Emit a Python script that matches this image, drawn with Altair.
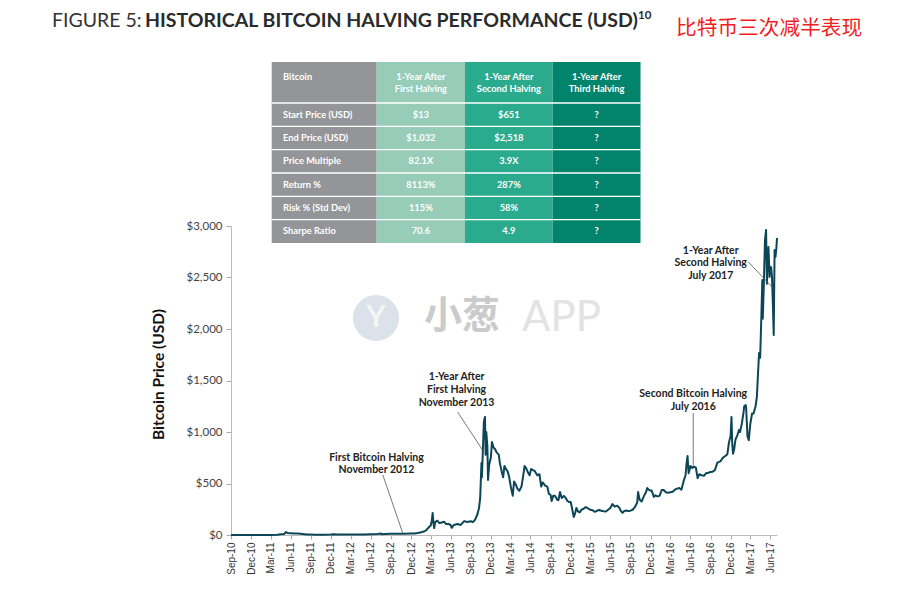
import altair as alt
import pandas as pd

# ---------------- data ----------------
dates = [
    "2010-09-30", "2010-10-31", "2010-11-30", "2010-12-31",
    "2011-01-31", "2011-02-28", "2011-03-31", "2011-04-30", "2011-05-15", "2011-05-31", "2011-06-08", "2011-06-15",
    "2011-06-30", "2011-07-15", "2011-07-31", "2011-08-15", "2011-08-31", "2011-09-15", "2011-09-30", "2011-10-20",
    "2011-10-31", "2011-11-18", "2011-11-30", "2011-12-31",
    "2012-01-10", "2012-01-31", "2012-02-29", "2012-03-31", "2012-04-30", "2012-05-31", "2012-06-30", "2012-07-31",
    "2012-08-16", "2012-08-19", "2012-08-31", "2012-09-30", "2012-10-31", "2012-11-28", "2012-12-31",
    "2013-01-15", "2013-01-31", "2013-02-15", "2013-02-28", "2013-03-10", "2013-03-20", "2013-03-31", "2013-04-05",
    "2013-04-09", "2013-04-12", "2013-04-16", "2013-04-20", "2013-04-30", "2013-05-10", "2013-05-20", "2013-05-31",
    "2013-06-10", "2013-06-20", "2013-06-30", "2013-07-05", "2013-07-15", "2013-07-31", "2013-08-15", "2013-08-31",
    "2013-09-15", "2013-09-30", "2013-10-10", "2013-10-20", "2013-10-31", "2013-11-07", "2013-11-12", "2013-11-18",
    "2013-11-20", "2013-11-24", "2013-11-29", "2013-12-04", "2013-12-07", "2013-12-10", "2013-12-15", "2013-12-18",
    "2013-12-23", "2013-12-31",
    "2014-01-05", "2014-01-12", "2014-01-20", "2014-01-27", "2014-02-05", "2014-02-10", "2014-02-18", "2014-02-25",
    "2014-03-03", "2014-03-10", "2014-03-17", "2014-03-24", "2014-04-01", "2014-04-10", "2014-04-16", "2014-04-24",
    "2014-05-01", "2014-05-10", "2014-05-20", "2014-05-31", "2014-06-03", "2014-06-10", "2014-06-18", "2014-06-26",
    "2014-07-03", "2014-07-12", "2014-07-20", "2014-07-31", "2014-08-10", "2014-08-18", "2014-08-25", "2014-09-05",
    "2014-09-15", "2014-09-22", "2014-09-30", "2014-10-05", "2014-10-12", "2014-10-20", "2014-10-31", "2014-11-05",
    "2014-11-12", "2014-11-20", "2014-11-30", "2014-12-08", "2014-12-16", "2014-12-24", "2014-12-31",
    "2015-01-05", "2015-01-14", "2015-01-20", "2015-01-26", "2015-02-02", "2015-02-10", "2015-02-18", "2015-02-28",
    "2015-03-10", "2015-03-18", "2015-03-31", "2015-04-10", "2015-04-20", "2015-04-30", "2015-05-10", "2015-05-20",
    "2015-05-31", "2015-06-10", "2015-06-20", "2015-06-30", "2015-07-10", "2015-07-20", "2015-07-31", "2015-08-10",
    "2015-08-18", "2015-08-25", "2015-08-31", "2015-09-10", "2015-09-20", "2015-09-30", "2015-10-10", "2015-10-20",
    "2015-10-31", "2015-11-04", "2015-11-07", "2015-11-12", "2015-11-20", "2015-11-30", "2015-12-10", "2015-12-16",
    "2015-12-22", "2015-12-31",
    "2016-01-05", "2016-01-15", "2016-01-22", "2016-01-31", "2016-02-10", "2016-02-20", "2016-02-29", "2016-03-10",
    "2016-03-20", "2016-03-31", "2016-04-10", "2016-04-20", "2016-04-30", "2016-05-10", "2016-05-20", "2016-05-31",
    "2016-06-08", "2016-06-12", "2016-06-17", "2016-06-22", "2016-06-26", "2016-06-30", "2016-07-09", "2016-07-15",
    "2016-07-25", "2016-08-02", "2016-08-10", "2016-08-20", "2016-08-31", "2016-09-10", "2016-09-20", "2016-09-30",
    "2016-10-10", "2016-10-20", "2016-10-31", "2016-11-07", "2016-11-15", "2016-11-22", "2016-11-30", "2016-12-08",
    "2016-12-16", "2016-12-23", "2016-12-31",
    "2017-01-04", "2017-01-07", "2017-01-11", "2017-01-16", "2017-01-22", "2017-01-31", "2017-02-07", "2017-02-12",
    "2017-02-20", "2017-02-28", "2017-03-03", "2017-03-10", "2017-03-12", "2017-03-18", "2017-03-24", "2017-03-31",
    "2017-04-08", "2017-04-15", "2017-04-24", "2017-04-30", "2017-05-05", "2017-05-10", "2017-05-15", "2017-05-20",
    "2017-05-25", "2017-05-27", "2017-06-01", "2017-06-06", "2017-06-11", "2017-06-15", "2017-06-18", "2017-06-22",
    "2017-06-27", "2017-06-30", "2017-07-04", "2017-07-08", "2017-07-12", "2017-07-16", "2017-07-20", "2017-07-24",
    "2017-07-28", "2017-07-31",
]
prices = [
    0.06, 0.19, 0.21, 0.30,
    0.52, 0.86, 0.78, 3.5, 7.9, 8.7, 29.6, 19,
    16.1, 13.8, 13.4, 11, 8.2, 4.8, 5.1, 2.3,
    3.2, 2.1, 3.0, 4.7,
    7.1, 5.5, 4.9, 4.9, 4.95, 5.2, 6.7, 9.4,
    13.5, 8, 10.1, 12.4, 11.2, 12.3, 13.5,
    14.2, 20.4, 27, 33.4, 46, 70, 93, 142,
    214, 120, 68, 125, 139, 115, 122, 128,
    106, 108, 97, 70, 98, 106, 98, 135,
    126, 133, 125, 150, 204, 265, 355, 700,
    560, 800, 1100, 1146, 780, 1000, 860, 534,
    680, 754,
    903, 850, 830, 800, 780, 700, 620, 560,
    670, 640, 620, 570, 470, 380, 520, 490,
    450, 430, 470, 620, 670, 650, 610, 580,
    640, 630, 620, 580, 590, 470, 510, 480,
    470, 400, 390, 330, 380, 380, 340, 340,
    418, 360, 380, 360, 330, 320, 320,
    270, 175, 210, 262, 230, 220, 245, 255,
    272, 260, 245, 240, 225, 235, 243, 235,
    230, 228, 245, 262, 300, 275, 285, 265,
    230, 215, 230, 238, 232, 236, 245, 270,
    315, 418, 380, 340, 325, 375, 415, 456,
    440, 430,
    432, 370, 385, 375, 380, 437, 437, 415,
    410, 415, 420, 440, 450, 456, 440, 530,
    580, 680, 767, 600, 630, 670, 650, 665,
    655, 553, 590, 580, 575, 600, 605, 612,
    615, 630, 700, 710, 715, 740, 757, 770,
    785, 893, 965,
    1146, 900, 790, 830, 925, 970, 1020, 1000,
    1080, 1190, 1250, 1262, 1230, 960, 920, 1080,
    1180, 1180, 1250, 1340, 1560, 1767, 1720, 2087,
    2476, 2100, 2450, 2860, 2961, 2440, 2640, 2796,
    2505, 2602, 2600, 2510, 2252, 1942, 2767, 2700,
    2780, 2883,
]

tick_labels = ["Sep-10", "Dec-10", "Mar-11", "Jun-11", "Sep-11", "Dec-11", "Mar-12", "Jun-12", "Sep-12",
               "Dec-12", "Mar-13", "Jun-13", "Sep-13", "Dec-13", "Mar-14", "Jun-14", "Sep-14", "Dec-14",
               "Mar-15", "Jun-15", "Sep-15", "Dec-15", "Mar-16", "Jun-16", "Sep-16", "Dec-16", "Mar-17",
               "Jun-17"]
y_ticks = [0, 500, 1000, 1500, 2000, 2500, 3000]

# table content
table_headers = ["Bitcoin", "1-Year After\nFirst Halving", "1-Year After\nSecond Halving",
                 "1-Year After\nThird Halving"]
row_labels = ["Start Price (USD)", "End Price (USD)", "Price Multiple", "Return %", "Risk % (Std Dev)",
              "Sharpe Ratio"]
first_halving = ["$13", "$1,032", "82.1X", "8113%", "115%", "70.6"]
second_halving = ["$651", "$2,518", "3.9X", "287%", "58%", "4.9"]
third_halving = ["?", "?", "?", "?", "?", "?"]

# annotations (anchored in data units)
ann_text = ["First Bitcoin Halving", "November 2012",
            "1-Year After", "First Halving", "November 2013",
            "Second Bitcoin Halving", "July 2016",
            "1-Year After", "Second Halving", "July 2017"]
ann_date = ["2012-07-26", "2012-07-26",
            "2013-07-27", "2013-07-27", "2013-07-27",
            "2016-07-13", "2016-07-13",
            "2016-10-01", "2016-10-01", "2016-10-01"]
ann_price = [748, 631, 1534, 1403, 1277, 1369, 1238, 2757, 2641, 2515]

lead_date = ["2012-08-24", "2013-08-01", "2016-07-13", "2017-03-22"]
lead_price = [583, 1194, 1184, 2650]
lead_date2 = ["2012-11-23", "2013-11-23", "2016-07-13", "2017-07-18"]
lead_price2 = [19, 825, 680, 2388]

# ---------------- layout / style ----------------
W, H = 546, 309
PAD_L, PAD_T = 223, 218          # plot origin at page (231, 226)
OX, OY = 231, 226                # page origin of the plot
LINE_COLOR = "#0c4656"
TXT = "#222222"

df = pd.DataFrame({"date": pd.to_datetime(dates), "price": prices})

tick_dates = [pd.to_datetime(t, format="%b-%y") + pd.offsets.MonthEnd(0) for t in tick_labels]
tick_values = [alt.DateTime(year=d.year, month=d.month, date=d.day) for d in tick_dates]

xscale = alt.Scale(domain=[alt.DateTime(year=2010, month=9, date=30),
                           alt.DateTime(year=2017, month=7, date=31)])
yscale = alt.Scale(domain=[0, 3000], nice=False)

x_axis = alt.Axis(values=tick_values, format="%b-%y", labelAngle=270, labelFont="Liberation Sans",
                  labelFontSize=10, labelColor="#333", tickColor="#aaa", tickSize=4,
                  domainColor="#bbb", grid=False, title=None, labelPadding=3,
                  labelOverlap=False, labelBound=False, labelFlush=False)
y_axis = alt.Axis(values=y_ticks, format="$,.0f", labelFont="Lato", labelFontSize=11.5,
                  labelColor="#444", tickColor="#aaa", tickSize=5, domainColor="#bbb",
                  labelPadding=4, grid=False, title="Bitcoin Price (USD)", titleFont="Lato",
                  titleFontSize=15.5, titleFontWeight="bold", titleColor="#111",
                  titlePadding=20, titleY=148)

line = alt.Chart(df).mark_line(color=LINE_COLOR, strokeWidth=2, strokeJoin="round").encode(
    x=alt.X("date:T", scale=xscale, axis=x_axis),
    y=alt.Y("price:Q", scale=yscale, axis=y_axis),
)

# leader lines
lead_df = pd.DataFrame({"d1": pd.to_datetime(lead_date), "p1": lead_price,
                        "d2": pd.to_datetime(lead_date2), "p2": lead_price2})
leaders = alt.Chart(lead_df).mark_rule(color="#555", strokeWidth=0.8).encode(
    x=alt.X("d1:T", scale=xscale, axis=x_axis), x2="d2:T",
    y=alt.Y("p1:Q", scale=yscale, axis=y_axis), y2="p2:Q")

ann_df = pd.DataFrame({"date": pd.to_datetime(ann_date), "price": ann_price, "t": ann_text})
ann = alt.Chart(ann_df).mark_text(font="Lato", fontWeight="bold", fontSize=10.5, color=TXT,
                                  align="center", baseline="middle").encode(
    x=alt.X("date:T", scale=xscale, axis=x_axis), y=alt.Y("price:Q", scale=yscale, axis=y_axis),
    text="t:N")

# ---------------- table ----------------
col_edges = [271.7, 376.7, 465.0, 552.7, 640.5]
row_edges = [62.0, 103.0, 126.3, 149.7, 173.0, 196.3, 219.7, 243.0]
col_colors = ["#949598", "#96ccb8", "#2bab8e", "#02846c"]

cells = []
for c in range(4):
    cells.append({"x": col_edges[c] - OX, "x2": col_edges[c + 1] - OX,
                  "y": row_edges[0] - OY, "y2": row_edges[-1] - OY, "fill": col_colors[c]})
rect_df = pd.DataFrame(cells)
rects = alt.Chart(rect_df).mark_rect().encode(
    x=alt.X("x:Q", scale=None), x2="x2:Q",
    y=alt.Y("y:Q", scale=None), y2="y2:Q",
    fill=alt.Fill("fill:N", scale=None))

sep_df = pd.DataFrame({"y": [r - OY for r in row_edges[1:-1]],
                       "x": [col_edges[0] - OX] * 6, "x2": [col_edges[-1] - OX] * 6})
seps = alt.Chart(sep_df).mark_rule(color="white", strokeWidth=1.3).encode(
    x=alt.X("x:Q", scale=None), x2="x2:Q", y=alt.Y("y:Q", scale=None))

txt_rows = []
cols_vals = [row_labels, first_halving, second_halving, third_halving]
for c in range(4):
    cx = (col_edges[c] + col_edges[c + 1]) / 2 - OX if c > 0 else 283 - OX
    al = "center" if c > 0 else "left"
    txt_rows.append({"x": cx, "y": (row_edges[0] + row_edges[1]) / 2 - OY - 6,
                     "t": table_headers[c], "al": al})
    for r in range(6):
        txt_rows.append({"x": cx, "y": (row_edges[r + 1] + row_edges[r + 2]) / 2 - OY,
                         "t": cols_vals[c][r], "al": al})
tdf = pd.DataFrame(txt_rows)
tleft = alt.Chart(tdf).transform_filter(alt.datum.al == "left").mark_text(
    font="Lato", fontWeight="bold", fontSize=9.3, color="white", align="left", baseline="middle",
    lineBreak="\n", lineHeight=12).encode(
    x=alt.X("x:Q", scale=None), y=alt.Y("y:Q", scale=None), text="t:N")
tcenter = alt.Chart(tdf).transform_filter(alt.datum.al == "center").mark_text(
    font="Lato", fontWeight="bold", fontSize=9.3, color="white", align="center", baseline="middle",
    lineBreak="\n", lineHeight=12).encode(
    x=alt.X("x:Q", scale=None), y=alt.Y("y:Q", scale=None), text="t:N")

# ---------------- titles ----------------
one = pd.DataFrame({"a": [0]})
t_fig = alt.Chart(one).mark_text(text="FIGURE 5:", font="Lato", fontSize=19.5, color="#333",
                                 align="left", baseline="alphabetic").encode(
    x=alt.value(52 - OX), y=alt.value(27 - OY))
t_main = alt.Chart(one).mark_text(text="HISTORICAL BITCOIN HALVING PERFORMANCE (USD)", font="Lato",
                                  fontWeight="bold", fontSize=19.5, color="#2b2b2b",
                                  align="left", baseline="alphabetic").encode(
    x=alt.value(145 - OX), y=alt.value(27 - OY))
t_sup = alt.Chart(one).mark_text(text="10", font="Lato", fontWeight="bold", fontSize=11.5, color="#2b2b2b",
                                 align="left", baseline="alphabetic").encode(
    x=alt.value(638 - OX), y=alt.value(19 - OY))
t_cn = alt.Chart(one).mark_text(text="比特币三次减半表现", font="Noto Sans CJK SC", fontSize=20.7,
                                color="#f01e1e", align="left", baseline="middle").encode(
    x=alt.value(676 - OX), y=alt.value(29 - OY))

# ---------------- watermark ----------------
wm_circle = alt.Chart(one).mark_circle(size=2124, color="#d6dde5", opacity=0.85).encode(
    x=alt.value(376 - OX), y=alt.value(318 - OY))
wm_y = alt.Chart(one).mark_text(text="Y", font="Lato", fontWeight="bold", fontSize=30, color="#f4f6f4",
                                align="center", baseline="middle").encode(
    x=alt.value(376 - OX), y=alt.value(318 - OY))
wm_cn = alt.Chart(one).mark_text(text="小葱", font="Noto Sans CJK SC", fontWeight="bold", fontSize=38,
                                 color="#c6c6c6", opacity=0.9, align="left", baseline="middle").encode(
    x=alt.value(424 - OX), y=alt.value(317 - OY))
wm_app = alt.Chart(one).mark_text(text="APP", font="Lato", fontSize=42, color="#e0e0e0", opacity=0.9,
                                  align="left", baseline="middle").encode(
    x=alt.value(522 - OX), y=alt.value(318 - OY))

chart = alt.layer(
    line, leaders, ann, rects, seps, tleft, tcenter, t_fig, t_main, t_sup, t_cn,
    wm_circle, wm_y, wm_cn, wm_app
).properties(
    width=W, height=H,
    background="white",
    autosize=alt.AutoSizeParams(type="none"),
    padding={"left": PAD_L, "top": PAD_T, "right": 131, "bottom": 53},
).configure_view(stroke=None).configure_axisX(labelOverlap=False)

chart.save("out.html", embed_options={"renderer": "svg", "actions": False})
